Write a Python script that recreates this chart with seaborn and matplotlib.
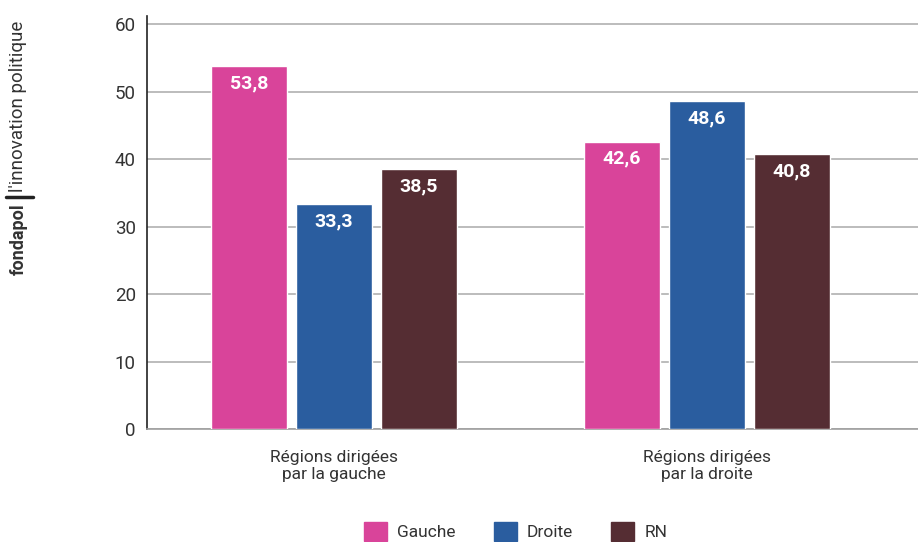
import pandas as pd
import numpy as np
import matplotlib.pyplot as plt
import seaborn as sns

# Data
regions = ['Régions dirigées\npar la gauche', 'Régions dirigées\npar la droite']
partis = ['Gauche', 'Droite', 'RN']
gauche = [53.8, 42.6]
droite = [33.3, 48.6]
rn = [38.5, 40.8]
couleurs = ['#D9449A', '#2A5D9F', '#552D33']

df = pd.DataFrame({
    'region': regions * 3,
    'parti': ['Gauche'] * 2 + ['Droite'] * 2 + ['RN'] * 2,
    'valeur': gauche + droite + rn,
})

sns.set_style('white')
plt.rcParams['font.family'] = ['Roboto', 'DejaVu Sans']

fig = plt.figure(figsize=(9.18, 5.42), dpi=100)
ax = fig.add_axes([0.160, 0.2085, 0.84, 0.762])

sns.barplot(data=df, x='region', y='valeur', hue='parti', hue_order=partis,
            palette=couleurs, width=0.683, gap=0.106, saturation=1,
            ax=ax, legend=False, zorder=3)

# Value labels
for cont in ax.containers:
    labels = [f'{v:.1f}'.replace('.', ',') for v in cont.datavalues]
    ax.bar_label(cont, labels=labels, label_type='edge', padding=-19,
                 color='white', fontsize=14, fontweight='bold')

ax.set_ylim(0, 61.2)
ax.set_xlim(-0.501, 1.566)
ax.set_yticks(range(0, 61, 10))
ax.yaxis.grid(True, color='#b0b0b0', linewidth=1.2, zorder=0)
ax.set_axisbelow(True)
ax.set_xlabel('')
ax.set_ylabel('')
for s in ['top', 'right']:
    ax.spines[s].set_visible(False)
ax.spines['left'].set_color('#222222')
ax.spines['left'].set_linewidth(1.2)
ax.spines['bottom'].set_color('#a0a0a0')
ax.spines['bottom'].set_linewidth(1.2)
ax.tick_params(axis='y', labelsize=13.5, colors='#333333', length=0, pad=8)
ax.tick_params(axis='x', labelsize=12.5, colors='#333333', length=0, pad=15)

# Legend
handles = [plt.Rectangle((0, 0), 1, 1, color=c) for c in couleurs]
fig.legend(handles, partis, loc='center', bbox_to_anchor=(0.562, 0.02),
           ncol=3, frameon=False, fontsize=12.5, handlelength=1.3,
           handleheight=1.3, columnspacing=2.2, handletextpad=0.6,
           labelcolor='#333333')

# Side branding
fig.text(0.020, 0.625, 'fondapol', rotation=90, fontsize=13, fontweight='bold',
         color='#333333', ha='center', va='top')
fig.text(0.020, 0.646, "l'innovation politique", rotation=90, fontsize=13.5,
         color='#333333', ha='center', va='bottom')
fig.add_artist(plt.Line2D([0.006, 0.036], [0.6365, 0.6365], color='#222222',
                          linewidth=2.5, transform=fig.transFigure))

fig.savefig('out.png', dpi=100)
